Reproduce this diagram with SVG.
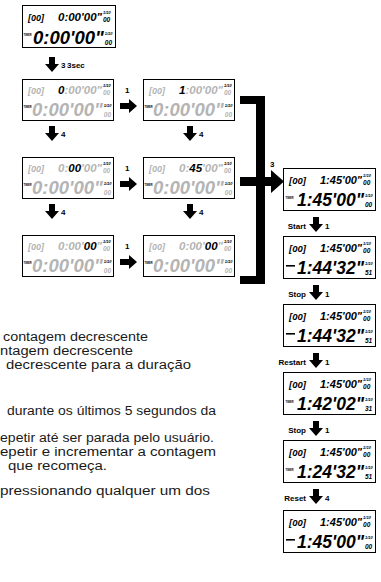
<svg xmlns="http://www.w3.org/2000/svg" xmlns:xlink="http://www.w3.org/1999/xlink" width="381" height="582" viewBox="0 0 381 582">
<style>
.box{fill:#fff;stroke:#000;stroke-width:1}
.lcd{font-family:"Liberation Sans",Arial,sans-serif;font-weight:bold;font-style:italic}
.g{fill:#b4b4b4}
.k{fill:#000}
.tm{font-family:"Liberation Sans",Arial,sans-serif;font-weight:bold;font-size:2.6px;fill:#000}
.lbl{font-family:"Liberation Sans",Arial,sans-serif;font-weight:bold;font-size:8px;fill:#000}
.body{font-family:"Liberation Sans",Arial,sans-serif;font-size:12.5px;fill:#1a1a1a}
.conn{fill:#000}
</style>
<defs>
<path id="dn" d="M-3,0H3V7H7L0,15L-7,7H-3Z"/>
<path id="rt" d="M0,-3H9V-7L17,0L9,7V3H0Z"/>
</defs>

<!-- top box -->
<g id="n-top" transform="translate(22,5)">
<rect class="box" x="0.5" y="0.5" width="93" height="42"/>
<text class="lcd k" x="6" y="16" font-size="9">[00]</text>
<text class="lcd k" x="36" y="16" font-size="11.5">0:00'00"<tspan font-size="4" dx="1" dy="-7">1/10</tspan><tspan font-size="6.5" dx="-7.8" dy="8">00</tspan></text>
<text class="tm" x="1.5" y="31">TIMER</text>
<text class="lcd k" x="11" y="39" font-size="18.5">0:00'00"<tspan font-size="4" dx="1" dy="-9">1/10</tspan><tspan font-size="6.5" dx="-7.8" dy="10">00</tspan></text>
</g>

<!-- row 1 A -->
<g id="n-r1a" transform="translate(22,79)">
<rect class="box" x="0.5" y="0.5" width="91" height="41"/>
<text class="lcd g" x="6" y="15" font-size="9">[00]</text>
<text class="lcd g" x="36" y="15" font-size="11.5"><tspan class="k">0</tspan>:00'00"<tspan class="k" font-size="4" dx="1" dy="-7">1/10</tspan><tspan font-size="6.5" dx="-7.8" dy="8">00</tspan></text>
<text class="tm" x="1.5" y="29">TIMER</text>
<text class="lcd g" x="10" y="37" font-size="18.5">0:00'00"<tspan class="k" font-size="4" dx="1" dy="-9">1/10</tspan><tspan font-size="6.5" dx="-7.8" dy="10">00</tspan></text>
</g>

<!-- row 1 B -->
<g id="n-r1b" transform="translate(143,79)">
<rect class="box" x="0.5" y="0.5" width="91" height="41"/>
<text class="lcd g" x="6" y="15" font-size="9">[00]</text>
<text class="lcd g" x="36" y="15" font-size="11.5"><tspan class="k">1</tspan>:00'00"<tspan class="k" font-size="4" dx="1" dy="-7">1/10</tspan><tspan font-size="6.5" dx="-7.8" dy="8">00</tspan></text>
<text class="tm" x="1.5" y="29">TIMER</text>
<text class="lcd g" x="10" y="37" font-size="18.5">0:00'00"<tspan class="k" font-size="4" dx="1" dy="-9">1/10</tspan><tspan font-size="6.5" dx="-7.8" dy="10">00</tspan></text>
</g>

<!-- row 2 A -->
<g id="n-r2a" transform="translate(22,157)">
<rect class="box" x="0.5" y="0.5" width="91" height="41"/>
<text class="lcd g" x="6" y="15" font-size="9">[00]</text>
<text class="lcd g" x="36" y="15" font-size="11.5">0:<tspan class="k">00</tspan>'00"<tspan class="k" font-size="4" dx="1" dy="-7">1/10</tspan><tspan font-size="6.5" dx="-7.8" dy="8">00</tspan></text>
<text class="tm" x="1.5" y="29">TIMER</text>
<text class="lcd g" x="10" y="37" font-size="18.5">0:00'00"<tspan class="k" font-size="4" dx="1" dy="-9">1/10</tspan><tspan font-size="6.5" dx="-7.8" dy="10">00</tspan></text>
</g>

<!-- row 2 B -->
<g id="n-r2b" transform="translate(143,157)">
<rect class="box" x="0.5" y="0.5" width="91" height="41"/>
<text class="lcd g" x="6" y="15" font-size="9">[00]</text>
<text class="lcd g" x="36" y="15" font-size="11.5">0:<tspan class="k">45</tspan>'00"<tspan class="k" font-size="4" dx="1" dy="-7">1/10</tspan><tspan font-size="6.5" dx="-7.8" dy="8">00</tspan></text>
<text class="tm" x="1.5" y="29">TIMER</text>
<text class="lcd g" x="10" y="37" font-size="18.5">0:00'00"<tspan class="k" font-size="4" dx="1" dy="-9">1/10</tspan><tspan font-size="6.5" dx="-7.8" dy="10">00</tspan></text>
</g>

<!-- row 3 A -->
<g id="n-r3a" transform="translate(22,235)">
<rect class="box" x="0.5" y="0.5" width="91" height="41"/>
<text class="lcd g" x="6" y="15" font-size="9">[00]</text>
<text class="lcd g" x="36" y="15" font-size="11.5">0:00'<tspan class="k">00</tspan>"<tspan class="k" font-size="4" dx="1" dy="-7">1/10</tspan><tspan font-size="6.5" dx="-7.8" dy="8">00</tspan></text>
<text class="tm" x="1.5" y="29">TIMER</text>
<text class="lcd g" x="10" y="37" font-size="18.5">0:00'00"<tspan class="k" font-size="4" dx="1" dy="-9">1/10</tspan><tspan font-size="6.5" dx="-7.8" dy="10">00</tspan></text>
</g>

<!-- row 3 B -->
<g id="n-r3b" transform="translate(143,235)">
<rect class="box" x="0.5" y="0.5" width="91" height="41"/>
<text class="lcd g" x="6" y="15" font-size="9">[00]</text>
<text class="lcd g" x="36" y="15" font-size="11.5">0:00'<tspan class="k">00</tspan>"<tspan class="k" font-size="4" dx="1" dy="-7">1/10</tspan><tspan font-size="6.5" dx="-7.8" dy="8">00</tspan></text>
<text class="tm" x="1.5" y="29">TIMER</text>
<text class="lcd g" x="10" y="37" font-size="18.5">0:00'00"<tspan class="k" font-size="4" dx="1" dy="-9">1/10</tspan><tspan font-size="6.5" dx="-7.8" dy="10">00</tspan></text>
</g>

<!-- right column -->
<g id="n-c1" transform="translate(283,168)">
<rect class="box" x="0.5" y="0.5" width="92" height="42"/>
<text class="lcd k" x="6" y="16" font-size="9.5">[00]</text>
<text class="lcd k" x="37" y="16" font-size="11">1:45'00"<tspan font-size="4" dx="1" dy="-7">1/10</tspan><tspan font-size="6.5" dx="-7.8" dy="8">00</tspan></text>
<text class="tm" x="2.5" y="31">TIMER</text>
<text class="lcd k" x="14" y="38" font-size="17.5">1:45'00"<tspan font-size="4" dx="1" dy="-9">1/10</tspan><tspan font-size="6.5" dx="-7.8" dy="10">00</tspan></text>
</g>

<g id="n-c2" transform="translate(283,236)">
<rect class="box" x="0.5" y="0.5" width="92" height="42"/>
<text class="lcd k" x="6" y="16" font-size="9.5">[00]</text>
<text class="lcd k" x="37" y="16" font-size="11">1:45'00"<tspan font-size="4" dx="1" dy="-7">1/10</tspan><tspan font-size="6.5" dx="-7.8" dy="8">00</tspan></text>
<rect class="k" x="3" y="29" width="9" height="1.6"/>
<text class="lcd k" x="14" y="38" font-size="17.5">1:44'32"<tspan font-size="4" dx="1" dy="-9">1/10</tspan><tspan font-size="6.5" dx="-7.8" dy="10">51</tspan></text>
</g>

<g id="n-c3" transform="translate(283,304)">
<rect class="box" x="0.5" y="0.5" width="92" height="42"/>
<text class="lcd k" x="6" y="16" font-size="9.5">[00]</text>
<text class="lcd k" x="37" y="16" font-size="11">1:45'00"<tspan font-size="4" dx="1" dy="-7">1/10</tspan><tspan font-size="6.5" dx="-7.8" dy="8">00</tspan></text>
<rect class="k" x="3" y="29" width="9" height="1.6"/>
<text class="lcd k" x="14" y="38" font-size="17.5">1:44'32"<tspan font-size="4" dx="1" dy="-9">1/10</tspan><tspan font-size="6.5" dx="-7.8" dy="10">51</tspan></text>
</g>

<g id="n-c4" transform="translate(283,372)">
<rect class="box" x="0.5" y="0.5" width="92" height="42"/>
<text class="lcd k" x="6" y="16" font-size="9.5">[00]</text>
<text class="lcd k" x="37" y="16" font-size="11">1:45'00"<tspan font-size="4" dx="1" dy="-7">1/10</tspan><tspan font-size="6.5" dx="-7.8" dy="8">00</tspan></text>
<text class="tm" x="2.5" y="31">TIMER</text>
<text class="lcd k" x="14" y="38" font-size="17.5">1:42'02"<tspan font-size="4" dx="1" dy="-9">1/10</tspan><tspan font-size="6.5" dx="-7.8" dy="10">31</tspan></text>
</g>

<g id="n-c5" transform="translate(283,440)">
<rect class="box" x="0.5" y="0.5" width="92" height="42"/>
<text class="lcd k" x="6" y="16" font-size="9.5">[00]</text>
<text class="lcd k" x="37" y="16" font-size="11">1:45'00"<tspan font-size="4" dx="1" dy="-7">1/10</tspan><tspan font-size="6.5" dx="-7.8" dy="8">00</tspan></text>
<text class="tm" x="2.5" y="31">TIMER</text>
<text class="lcd k" x="14" y="38" font-size="17.5">1:24'32"<tspan font-size="4" dx="1" dy="-9">1/10</tspan><tspan font-size="6.5" dx="-7.8" dy="10">51</tspan></text>
</g>

<g id="n-c6" transform="translate(283,510)">
<rect class="box" x="0.5" y="0.5" width="92" height="42"/>
<text class="lcd k" x="6" y="16" font-size="9.5">[00]</text>
<text class="lcd k" x="37" y="16" font-size="11">1:45'00"<tspan font-size="4" dx="1" dy="-7">1/10</tspan><tspan font-size="6.5" dx="-7.8" dy="8">00</tspan></text>
<rect class="k" x="3" y="29" width="9" height="1.6"/>
<text class="lcd k" x="14" y="38" font-size="17.5">1:45'00"<tspan font-size="4" dx="1" dy="-9">1/10</tspan><tspan font-size="6.5" dx="-7.8" dy="10">00</tspan></text>
</g>

<!-- connectors -->
<g id="connectors" class="conn">
<use xlink:href="#dn" href="#dn" x="52" y="57"/>
<text class="lbl" x="61" y="68">3</text>
<text class="lbl" x="67" y="68" font-size="5.5">3sec</text>

<use xlink:href="#rt" href="#rt" x="120" y="106"/>
<text class="lbl" x="125" y="93">1</text>
<use xlink:href="#rt" href="#rt" x="120" y="184"/>
<text class="lbl" x="125" y="171">1</text>
<use xlink:href="#rt" href="#rt" x="120" y="262"/>
<text class="lbl" x="125" y="249">1</text>

<use xlink:href="#dn" href="#dn" x="52" y="126"/>
<text class="lbl" x="61" y="137">4</text>
<use xlink:href="#dn" href="#dn" x="190" y="126"/>
<text class="lbl" x="199" y="137">4</text>
<use xlink:href="#dn" href="#dn" x="52" y="204"/>
<text class="lbl" x="61" y="215">4</text>
<use xlink:href="#dn" href="#dn" x="190" y="204"/>
<text class="lbl" x="199" y="215">4</text>

<rect x="240" y="96" width="25" height="8"/>
<rect x="256" y="96" width="9" height="188"/>
<rect x="240" y="276" width="25" height="8"/>
<path d="M240,177H271V170L284,181.5L271,193V186H240Z"/>
<text class="lbl" x="270" y="167">3</text>

<text class="lbl" x="306" y="229" text-anchor="end">Start</text>
<use xlink:href="#dn" href="#dn" x="316" y="217"/>
<text class="lbl" x="325" y="229">1</text>
<text class="lbl" x="306" y="297" text-anchor="end">Stop</text>
<use xlink:href="#dn" href="#dn" x="316" y="285"/>
<text class="lbl" x="325" y="297">1</text>
<text class="lbl" x="306" y="365" text-anchor="end">Restart</text>
<use xlink:href="#dn" href="#dn" x="316" y="353"/>
<text class="lbl" x="325" y="365">1</text>
<text class="lbl" x="306" y="433" text-anchor="end">Stop</text>
<use xlink:href="#dn" href="#dn" x="316" y="421"/>
<text class="lbl" x="325" y="433">1</text>
<text class="lbl" x="306" y="501" text-anchor="end">Reset</text>
<use xlink:href="#dn" href="#dn" x="316" y="489"/>
<text class="lbl" x="325" y="501">4</text>
</g>

<!-- body text -->
<g id="text">
<text class="body" x="3" y="341" textLength="145" lengthAdjust="spacingAndGlyphs">contagem decrescente</text>
<text class="body" x="0" y="355" textLength="133" lengthAdjust="spacingAndGlyphs">ntagem decrescente</text>
<text class="body" x="6" y="369" textLength="185" lengthAdjust="spacingAndGlyphs">decrescente para a duração</text>
<text class="body" x="7" y="415" textLength="209" lengthAdjust="spacingAndGlyphs">durante os últimos 5 segundos da</text>
<text class="body" x="0" y="442" textLength="214" lengthAdjust="spacingAndGlyphs">epetir até ser parada pelo usuário.</text>
<text class="body" x="0" y="456" textLength="216" lengthAdjust="spacingAndGlyphs">epetir e incrementar a contagem</text>
<text class="body" x="8" y="470" textLength="99" lengthAdjust="spacingAndGlyphs">que recomeça.</text>
<text class="body" x="0" y="495" textLength="210" lengthAdjust="spacingAndGlyphs">pressionando qualquer um dos</text>
</g>
</svg>
